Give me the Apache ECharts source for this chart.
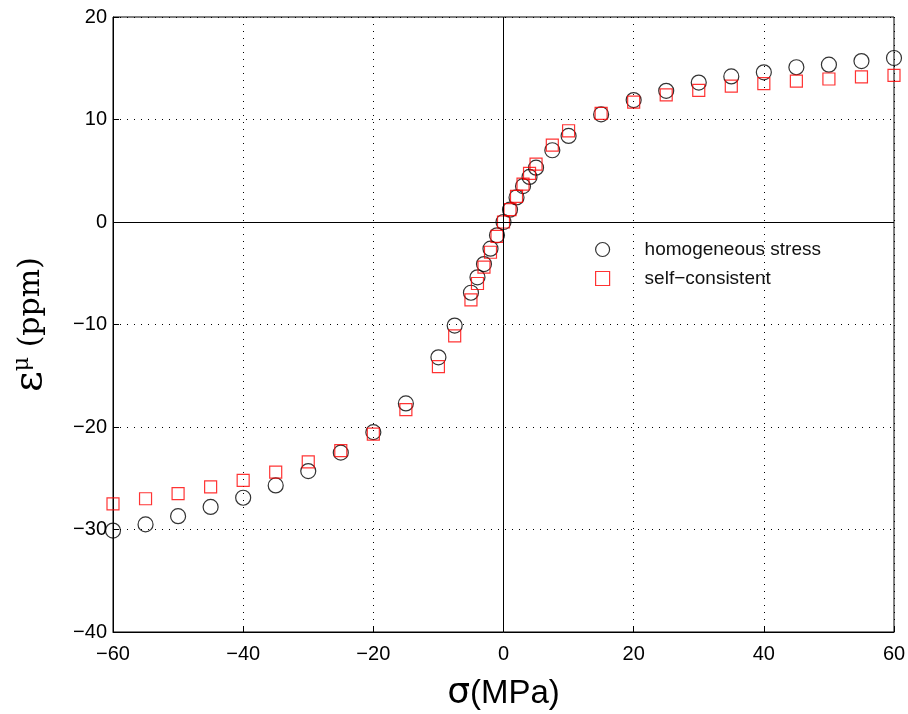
<!DOCTYPE html>
<html><head><meta charset="utf-8">
<script src="https://cdn.jsdelivr.net/npm/echarts@6/dist/echarts.min.js"></script>
<style>html,body{margin:0;padding:0;background:#fff}#c{width:908px;height:714px}</style>
</head><body><div id="c"></div>
<script>
const sigma = [-60,-55,-50,-45,-40,-35,-30,-25,-20,-15,-10,-7.5,-5,-4,-3,-2,-1,0,1,2,3,4,5,7.5,10,15,20,25,30,35,40,45,50,55,60];
const homogeneous = [-30.1,-29.5,-28.7,-27.8,-26.9,-25.7,-24.3,-22.5,-20.5,-17.7,-13.2,-10.1,-6.9,-5.4,-4.1,-2.6,-1.3,0,1.2,2.4,3.5,4.4,5.3,7.0,8.4,10.5,11.9,12.8,13.6,14.2,14.6,15.1,15.35,15.7,16.0];
const selfConsistent = [-27.5,-27.0,-26.5,-25.85,-25.2,-24.4,-23.4,-22.3,-20.7,-18.3,-14.1,-11.1,-7.6,-6.0,-4.4,-2.95,-1.4,0,1.2,2.5,3.7,4.75,5.65,7.5,8.9,10.6,11.7,12.4,12.85,13.25,13.5,13.75,13.95,14.15,14.3];
const xTicks = {min:-60, max:60, interval:20};
const yTicks = {min:-40, max:20, interval:10};

const fmt = v => String(v).replace('-', '\u2212');
const chart = echarts.init(document.getElementById('c'), null, {renderer:'canvas'});
const pair = (xs, ys) => xs.map((x,i)=>[x, ys[i]]);
const tickFont = {color:'#000', fontFamily:'Liberation Sans, Arial, sans-serif', fontSize:20};
chart.setOption({
  animation:false,
  grid:{left:113, right:14, top:17, bottom:82, show:true, borderColor:'#000', borderWidth:1,
    containLabel:false, outerBoundsMode:'none'},
  xAxis:{type:'value', min:xTicks.min, max:xTicks.max, interval:xTicks.interval,
    axisLine:{show:true, onZero:false, lineStyle:{color:'#000'}},
    axisTick:{show:true, inside:true, length:6, lineStyle:{color:'#000'}},
    axisLabel:Object.assign({formatter:fmt, margin:12}, tickFont),
    splitLine:{show:true, lineStyle:{color:'#000', type:[1,6], width:1}},
    name:'{s|σ}{t|(MPa)}', nameLocation:'middle', nameGap:44,
    nameTextStyle:{rich:{
      s:{fontFamily:'DejaVu Sans, sans-serif', fontSize:36, color:'#000'},
      t:{fontFamily:'Liberation Sans, Arial, sans-serif', fontSize:33, color:'#000'}}}},
  yAxis:{type:'value', min:yTicks.min, max:yTicks.max, interval:yTicks.interval,
    axisLine:{show:true, onZero:false, lineStyle:{color:'#000'}},
    axisTick:{show:true, inside:true, length:6, lineStyle:{color:'#000'}},
    axisLabel:Object.assign({formatter:fmt, margin:6}, tickFont),
    splitLine:{show:true, lineStyle:{color:'#000', type:[1,6], width:1}},
    name:'{e|ε}{s|μ}{p| (ppm)}', nameLocation:'middle', nameGap:62, nameRotate:90,
    nameTextStyle:{rich:{
      e:{fontFamily:'DejaVu Serif, serif', fontSize:40, color:'#000'},
      s:{fontFamily:'DejaVu Serif, serif', fontSize:22, color:'#000', verticalAlign:'top', padding:[0,0,18,0]},
      p:{fontFamily:'DejaVu Serif, serif', fontSize:30, color:'#000'}}}},
  legend:{orient:'vertical', left:590, top:235, itemGap:10, itemWidth:14, itemHeight:14,
    textStyle:{fontFamily:'Liberation Sans, Arial, sans-serif', fontSize:19, color:'#111', padding:[0,0,0,30]},
    data:[{name:'homogeneous stress', icon:'circle', itemStyle:{borderWidth:1.2}},{name:'self\u2212consistent', icon:'rect', itemStyle:{borderWidth:1.2}}]},
  series:[
    {name:'homogeneous stress', type:'scatter', data:pair(sigma, homogeneous), symbol:'circle', symbolSize:15,
      itemStyle:{color:'rgba(0,0,0,0)', borderColor:'#000', borderWidth:1.2}, z:3,
      markLine:{silent:true, symbol:'none', label:{show:false}, lineStyle:{color:'#000', type:'solid', width:1},
        data:[{xAxis:0},{yAxis:0}]}},
    {name:'self\u2212consistent', type:'scatter', data:pair(sigma, selfConsistent), symbol:'rect', symbolSize:12,
      itemStyle:{color:'rgba(0,0,0,0)', borderColor:'#f00', borderWidth:1.2}, z:4}
  ]
});
</script></body></html>
